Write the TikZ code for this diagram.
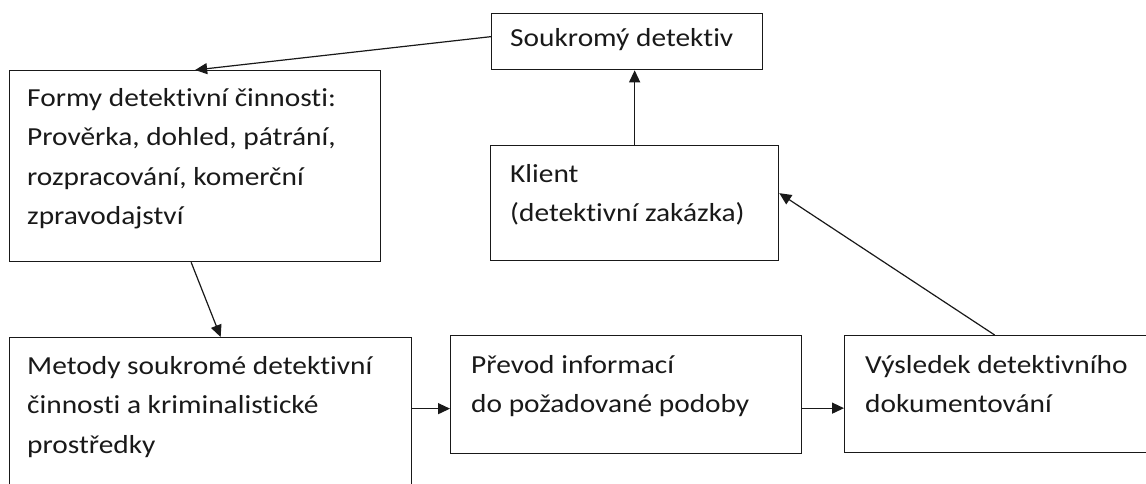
\documentclass[tikz,border=0pt]{standalone}
\usepackage{fontspec}
\setmainfont[FakeStretch=1.13,RawFeature=-liga]{Carlito}
\usepackage{tikz}
\usetikzlibrary{arrows.meta,calc}

\begin{document}
\begin{tikzpicture}[x=1pt,y=-1pt,
		box/.style={draw=black!90,line width=1.3pt,anchor=north west,inner sep=0pt},
		lbl/.style={anchor=north west,inner sep=0pt,align=left,text=black!90,
			font=\fontsize{26}{39.5}\selectfont},
		arr/.style={draw=black!90,line width=1.2pt,-{Triangle[length=12pt,width=11pt]}}]
		\clip (0,0) rectangle (1146,484);
		\fill[white] (0,0) rectangle (1146,484);
		
		% boxes
		\node[box,minimum width=271,minimum height=56]  (detektiv) at (491,13)  {};
		\node[box,minimum width=371,minimum height=191] (formy)    at (9,70)    {};
		\node[box,minimum width=288,minimum height=115] (klient)   at (490,145) {};
		\node[box,minimum width=402,minimum height=200] (metody)   at (9,337)   {};
		\node[box,minimum width=351,minimum height=118] (prevod)   at (450,335) {};
		\node[box,minimum width=308,minimum height=117] (vysledek) at (844,335) {};
		
		% texts
		\node[lbl] (detektiv-t) at (510,18.35)  {\strut Soukromý detektiv};
		\node[lbl] (formy-t)    at (27,78.35)   {\strut Formy detektivní činnosti:\\Prověrka, dohled, pátrání,\\rozpracování, komerční\\zpravodajství};
		\node[lbl] (klient-t)   at (510,154.35) {\strut Klient\\(detektivní zakázka)};
		\node[lbl] (metody-t)   at (27,346.35)  {\strut Metody soukromé detektivní\\činnosti a kriminalistické\\prostředky};
		\node[lbl] (prevod-t)   at (471,345.35) {\strut Převod informací\\do požadované podoby};
		\node[lbl] (vysledek-t) at (865,345.35) {\strut Výsledek detektivního\\dokumentování};
		
		% arrows
		\draw[arr] ([yshift=5pt]detektiv.west) -- (formy.north);
		\draw[arr] (klient.north) -- (klient.north |- detektiv.south);
		\draw[arr] ([xshift=-4pt]formy.south) -- ([xshift=10pt]metody.north);
		\coordinate (p-in) at ([yshift=-14pt]prevod.west);
		\coordinate (v-in) at ([yshift=-14pt]vysledek.west);
		\draw[arr] (metody.east |- p-in) -- (p-in);
		\draw[arr] (prevod.east |- v-in) -- (v-in);
		\draw[arr] ([xshift=-4pt]vysledek.north) -- ([yshift=10pt]klient.east);
	\end{tikzpicture}
\end{document}
